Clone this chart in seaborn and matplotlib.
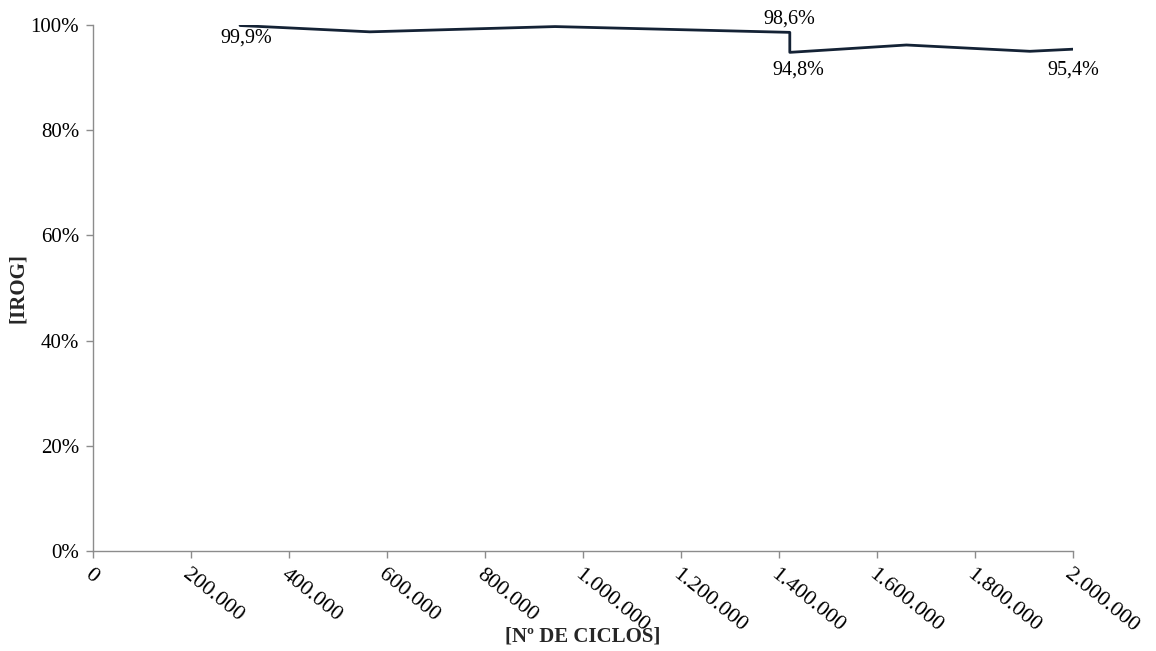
import matplotlib
matplotlib.use("Agg")
import matplotlib.pyplot as plt
import matplotlib.ticker as mticker
import seaborn as sns
import pandas as pd

# Ciclos de carga e índice de rigidez (IROG)
ciclos = [300000, 565000, 943000, 1422000, 1422000, 1660000, 1912000, 2000000]
irog = [0.999, 0.987, 0.997, 0.986, 0.948, 0.962, 0.950, 0.954]

# Pontos anotados: (índice do ponto, texto)
rotulos_idx = [0, 3, 4, 7]
rotulos_txt = ["99,9%", "98,6%", "94,8%", "95,4%"]

x_ticks = list(range(0, 2000001, 200000))
y_ticks = [0, 0.2, 0.4, 0.6, 0.8, 1.0]

sns.set_theme(style="white")
plt.rcParams["font.family"] = ["Liberation Serif", "DejaVu Serif"]

fig = plt.figure(figsize=(11.56, 6.51), dpi=100)
ax = fig.add_axes([0.0805, 0.1536, 0.8477, 0.808])

df = pd.DataFrame({"ciclos": ciclos, "irog": irog})
sns.lineplot(data=df, x="ciclos", y="irog", sort=False, estimator=None,
             color="#142235", linewidth=2.0, ax=ax)

ax.set_xlim(0, 2000000)
ax.set_ylim(0, 1.0)
ax.set_xticks(x_ticks)
ax.set_yticks(y_ticks)

def fmt_milhar(v, pos):
    return f"{int(v):,}".replace(",", ".")

ax.xaxis.set_major_formatter(mticker.FuncFormatter(fmt_milhar))
ax.yaxis.set_major_formatter(mticker.FuncFormatter(lambda v, p: f"{v*100:.0f}%"))

ax.tick_params(axis="both", which="major", bottom=True, left=True,
               colors="#8c8c8c", labelcolor="black", direction="out",
               length=5, width=1)
ax.tick_params(axis="x", labelsize=16, pad=5)
ax.tick_params(axis="y", labelsize=15, pad=5)

for lab in ax.get_xticklabels():
    lab.set_rotation(-39)
    lab.set_ha("left")
    lab.set_va("top")
    lab.set_rotation_mode("anchor")

for side in ["top", "right"]:
    ax.spines[side].set_visible(False)
for side in ["left", "bottom"]:
    ax.spines[side].set_color("#8c8c8c")
    ax.spines[side].set_linewidth(1)

ax.set_xlabel("[Nº DE CICLOS]", fontsize=15, fontweight="bold")
ax.set_ylabel("[IROG]", fontsize=15, fontweight="bold")
ax.xaxis.set_label_coords(0.5, -0.143)
ax.yaxis.set_label_coords(-0.066, 0.5)

offsets = {0: (-14, -9, "left", "center"),
           3: (0, 9.5, "center", "center"),
           4: (6, -13, "center", "center"),
           7: (0, -15, "center", "center")}
for i, txt in zip(rotulos_idx, rotulos_txt):
    dx, dy, ha, va = offsets[i]
    ax.annotate(txt, (ciclos[i], irog[i]), xytext=(dx, dy),
                textcoords="offset points", ha=ha, va=va, fontsize=14.5,
                color="black", annotation_clip=False)

fig.savefig("out.png", dpi=100)
